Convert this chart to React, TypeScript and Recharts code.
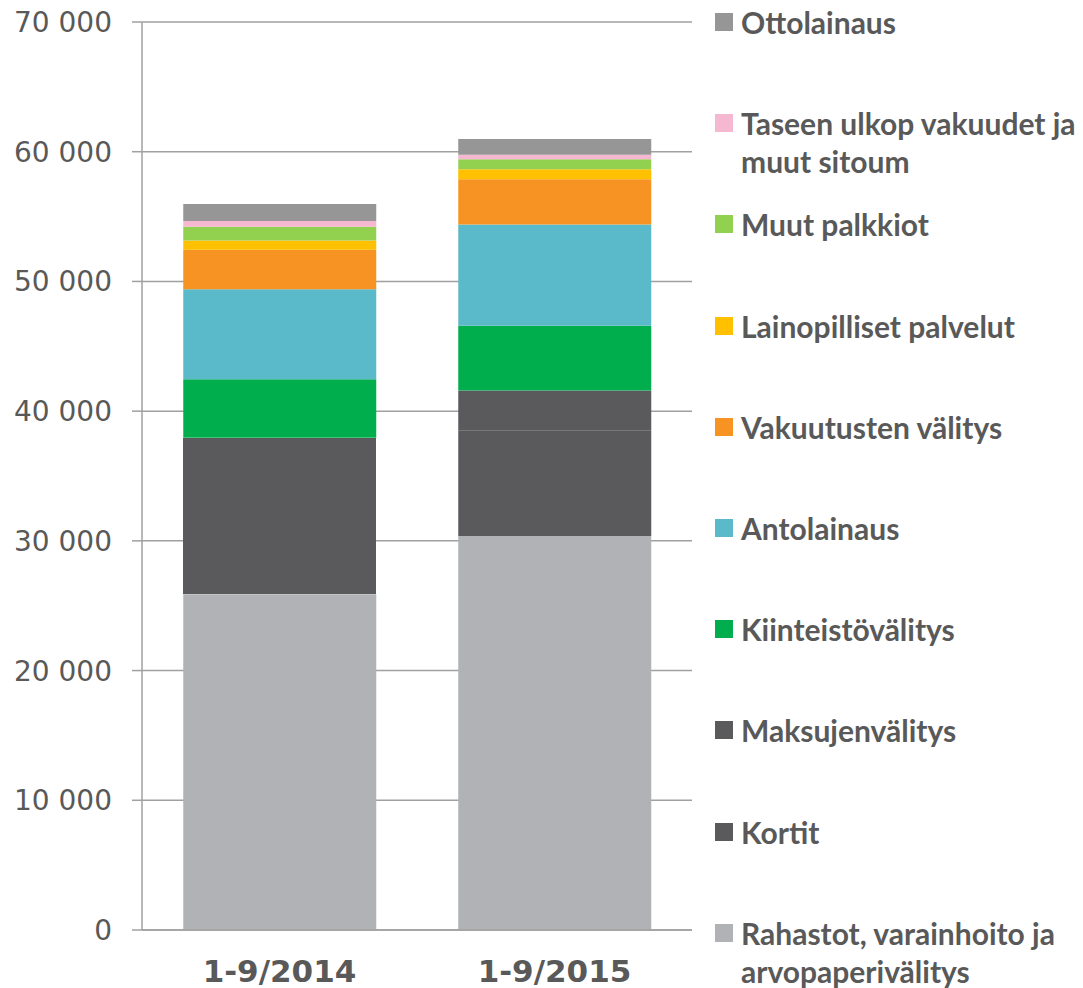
import { BarChart, Bar, XAxis, YAxis, CartesianGrid, Cell } from 'recharts'

const categories = ['1-9/2014', '1-9/2015']

const rahastot = [25880, 30370]
const kortit = [8600, 8150]
const maksujenvalitys = [3470, 3080]
const kiinteistovalitys = [4510, 4990]
const antolainaus = [6930, 7790]
const vakuutustenValitys = [3060, 3490]
const lainopillisetPalvelut = [710, 770]
const muutPalkkiot = [1060, 770]
const taseenUlkop = [440, 360]
const ottolainaus = [1310, 1210]

const yTicks = [0, 10000, 20000, 30000, 40000, 50000, 60000, 70000]

// bottom-to-top stacking order
const series = [
  { key: 'rahastot', name: 'Rahastot, varainhoito ja arvopaperivälitys', values: rahastot, color: '#b1b2b5' },
  { key: 'kortit', name: 'Kortit', values: kortit, color: '#5a5a5c' },
  { key: 'maksujen', name: 'Maksujenvälitys', values: maksujenvalitys, color: '#5a5a5c' },
  { key: 'kiinteisto', name: 'Kiinteistövälitys', values: kiinteistovalitys, color: '#00ae4e' },
  { key: 'antolainaus', name: 'Antolainaus', values: antolainaus, color: '#5bbac9' },
  { key: 'vakuutus', name: 'Vakuutusten välitys', values: vakuutustenValitys, color: '#f79322' },
  { key: 'laino', name: 'Lainopilliset palvelut', values: lainopillisetPalvelut, color: '#ffc000' },
  { key: 'muut', name: 'Muut palkkiot', values: muutPalkkiot, color: '#92d050' },
  { key: 'taseen', name: 'Taseen ulkop vakuudet ja muut sitoum', values: taseenUlkop, color: '#f5b8d0' },
  { key: 'otto', name: 'Ottolainaus', values: ottolainaus, color: '#969696' },
]

const chartData = categories.map((cat, i) => {
  const row: Record<string, string | number> = { name: cat }
  series.forEach((s) => {
    row[s.key] = s.values[i]
  })
  return row
})

const legendItems = [...series].reverse()

function formatThousands(v: number): string {
  return v.toLocaleString('en-US').replace(/,/g, ' ')
}

// the two dark segments of the 2014 bar join without a visible seam
const seamless = (key: string, i: number) => i === 0 && (key === 'kortit' || key === 'maksujen')

export default function App() {
  return (
    <div style={{ position: 'absolute', left: 0, top: 0, width: 1083, height: 988, background: '#fff' }}>
      <BarChart
        width={700}
        height={988}
        data={chartData}
        margin={{ top: 22, right: 8, left: 12, bottom: 8 }}
        barCategoryGap="15%"
      >
        <CartesianGrid horizontal vertical={false} stroke="#a0a0a0" strokeWidth={1.5} />
        <XAxis
          xAxisId="edges"
          type="number"
          domain={[0, 2]}
          ticks={[0, 1, 2]}
          tick={false}
          tickSize={8}
          height={0}
          axisLine={false}
          tickLine={{ stroke: '#a0a0a0', strokeWidth: 1.5 }}
        />
        <XAxis
          dataKey="name"
          height={50}
          tickLine={false}
          tickSize={0}
          tickMargin={30}
          axisLine={{ stroke: '#a0a0a0', strokeWidth: 1.5 }}
          tick={{ fontSize: 31, fontWeight: 'bold', fill: '#595959', fontFamily: 'DejaVu Sans' }}
        />
        <YAxis
          width={130}
          domain={[0, 70000]}
          ticks={yTicks}
          interval={0}
          tickFormatter={formatThousands}
          tickSize={10}
          tickMargin={20}
          tickLine={{ stroke: '#a0a0a0', strokeWidth: 1.5 }}
          axisLine={{ stroke: '#a0a0a0', strokeWidth: 1.5 }}
          tick={{ fontSize: 28, fill: '#595959', fontFamily: 'DejaVu Sans' }}
        />
        {series.map((s) => (
          <Bar key={s.key} dataKey={s.key} stackId="a" fill={s.color} isAnimationActive={false}>
            {chartData.map((_, i) => (
              <Cell
                key={i}
                fill={s.color}
                shapeRendering={seamless(s.key, i) ? 'crispEdges' : undefined}
              />
            ))}
          </Bar>
        ))}
      </BarChart>
      {legendItems.map((s, i) => (
        <div
          key={s.key}
          style={{
            position: 'absolute',
            left: 715,
            top: 22 + i * 101.2 - 19,
            width: 368,
            display: 'flex',
            alignItems: 'flex-start',
            fontFamily: 'Lato',
            fontWeight: 'bold',
            fontSize: 30,
            lineHeight: '38px',
            color: '#595959',
          }}
        >
          <span
            style={{
              display: 'inline-block',
              width: 18,
              height: 18,
              marginTop: 10,
              marginRight: 8,
              background: s.color,
              flexShrink: 0,
            }}
          />
          <span style={{ width: 340 }}>{s.name}</span>
        </div>
      ))}
    </div>
  )
}
